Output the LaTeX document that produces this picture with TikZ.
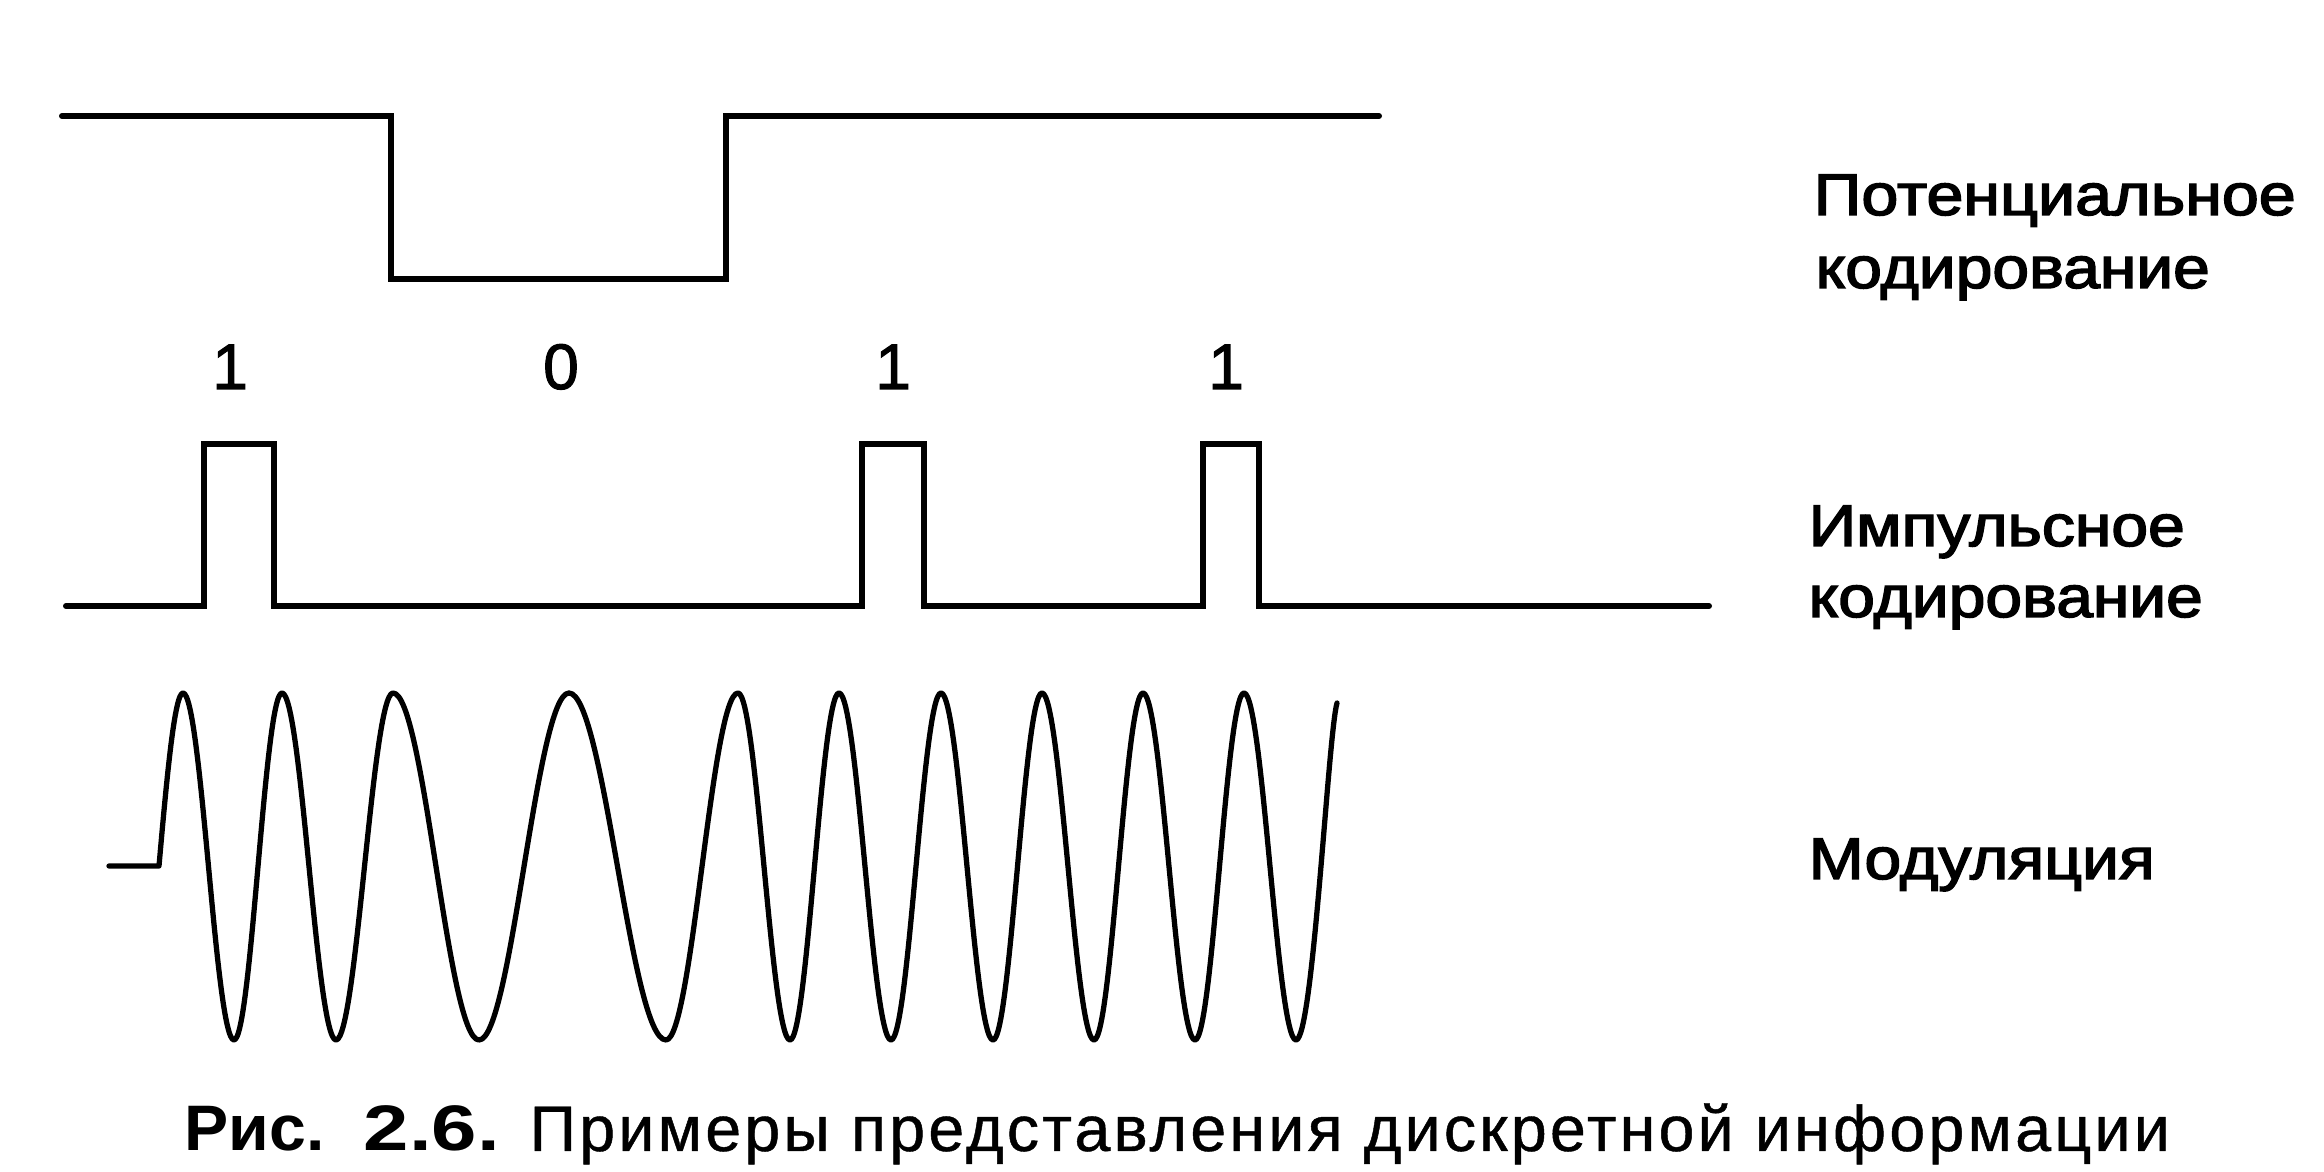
\documentclass[tikz,border=0pt]{standalone}
\usepackage{fontspec}
\usepackage{graphicx}
\setmainfont{Liberation Sans}
\newfontfamily\lblfont[FakeBold=2.4]{Liberation Sans}
\newfontfamily\digfont[FakeBold=1.6]{Liberation Sans}
\newfontfamily\capnarrow[FakeStretch=0.8,LetterSpace=4,FakeBold=0.6]{Liberation Sans}
\tikzset{
  sqline/.style={line width=1.7pt, line join=miter, line cap=round},
  waveline/.style={line width=1.5pt, line join=round, line cap=round},
  lbl/.style={anchor=base west, inner sep=0pt, font=\lblfont\fontsize{16.7}{20}\selectfont},
  digit/.style={anchor=base, inner sep=0pt, font=\digfont\fontsize{18.3}{22}\selectfont},
  captxt/.style={anchor=base west, inner sep=0pt, font=\fontsize{18.3}{22}\selectfont},
}
\begin{document}
\begin{tikzpicture}[x=0.1mm,y=-0.1mm]
\useasboundingbox (0,0) rectangle (2324,1172);

% ---------- potential coding ----------
\coordinate (pa) at (62,116);
\coordinate (pb) at (391,116);
\coordinate (pc) at (391,279);
\coordinate (pd) at (726,279);
\coordinate (pe) at (726,116);
\coordinate (pf) at (1379,116);
\draw[sqline] (pa) -- (pb) -- (pc) -- (pd) -- (pe) -- (pf);

% ---------- bit labels ----------
\node[digit] (b1) at (230,389) {1};
\node[digit] (b2) at (561,389) {0};
\node[digit] (b3) at (893,389) {1};
\node[digit] (b4) at (1226,389) {1};

% ---------- pulse coding ----------
\coordinate (ia) at (66,606);
\coordinate (ib) at (204,606);
\coordinate (ic) at (204,444);
\coordinate (id) at (274,444);
\coordinate (ie) at (274,606);
\coordinate (if) at (862,606);
\coordinate (ig) at (862,444);
\coordinate (ih) at (924,444);
\coordinate (ii) at (924,606);
\coordinate (ij) at (1203,606);
\coordinate (ik) at (1203,444);
\coordinate (il) at (1259,444);
\coordinate (im) at (1259,606);
\coordinate (in) at (1709,606);
\draw[sqline] (ia) -- (ib) -- (ic) -- (id) -- (ie) -- (if) -- (ig) -- (ih) -- (ii)
  -- (ij) -- (ik) -- (il) -- (im) -- (in);

% ---------- modulation ----------
\coordinate (ma) at (109,866);
\coordinate (mb) at (159,866);
\draw[waveline] (ma) -- (mb)
  .. controls (166.8,777.4) and (174.6,693) .. (183,693)
  .. controls (201.5,693) and (215.5,1040) .. (234,1040)
  .. controls (251.4,1040) and (264.6,693) .. (282,693)
  .. controls (301.6,693) and (316.4,1040) .. (336,1040)
  .. controls (356.7,1040) and (372.3,693) .. (393,693)
  .. controls (424.3,693) and (447.7,1040) .. (479,1040)
  .. controls (511.7,1040) and (536.3,693) .. (569,693)
  .. controls (604.2,693) and (630.8,1040) .. (666,1040)
  .. controls (692.2,1040) and (711.8,693) .. (738,693)
  .. controls (756.9,693) and (771.1,1040) .. (790,1040)
  .. controls (807.8,1040) and (821.2,693) .. (839,693)
  .. controls (857.9,693) and (872.1,1040) .. (891,1040)
  .. controls (909.2,1040) and (922.8,693) .. (941,693)
  .. controls (959.9,693) and (974.1,1040) .. (993,1040)
  .. controls (1010.8,1040) and (1024.2,693) .. (1042,693)
  .. controls (1060.9,693) and (1075.1,1040) .. (1094,1040)
  .. controls (1111.8,1040) and (1125.2,693) .. (1143,693)
  .. controls (1161.9,693) and (1176.1,1040) .. (1195,1040)
  .. controls (1212.8,1040) and (1226.2,693) .. (1244,693)
  .. controls (1262.9,693) and (1277.1,1040) .. (1296,1040)
  .. controls (1313,1040) and (1328,735) .. (1337,703);

% ---------- right labels ----------
\node[lbl] (potA) at (1813,215) {\resizebox{48.2mm}{\height}{Потенциальное}};
\node[lbl] (potB) at (1815,288) {\resizebox{39.4mm}{\height}{кодирование}};
\node[lbl] (impA) at (1808,546) {\resizebox{37.6mm}{\height}{Импульсное}};
\node[lbl] (impB) at (1808,617) {\resizebox{39.4mm}{\height}{кодирование}};
\node[lbl] (modl) at (1808,879) {\resizebox{34.6mm}{\height}{Модуляция}};

% ---------- caption ----------
\node[captxt] (capA) at (184,1151) {\resizebox{14.0mm}{\height}{\bfseries Рис.}};
\node[captxt] (capB) at (363,1151) {\resizebox{13.6mm}{\height}{\bfseries 2.6.}};
\node[captxt] (capC) at (529,1151) {\resizebox{164.0mm}{\height}{\capnarrow Примеры представления дискретной информации}};
\end{tikzpicture}
\end{document}
